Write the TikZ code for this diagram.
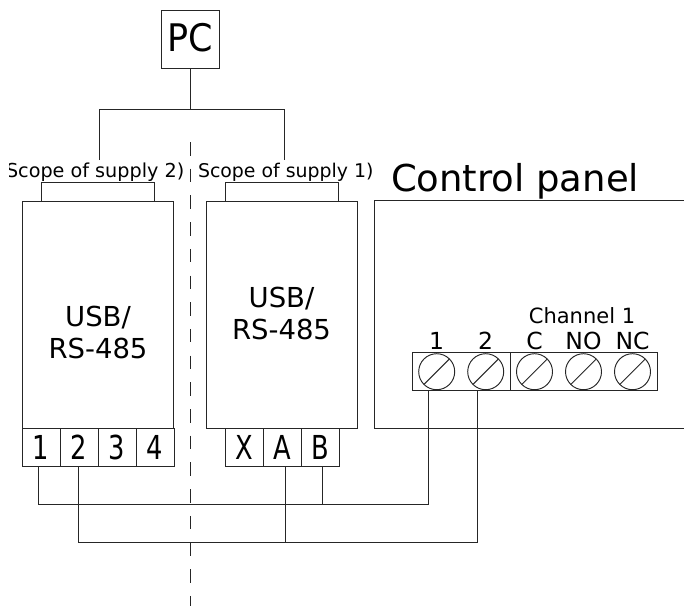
\documentclass[tikz,border=0pt]{standalone}
\usepackage{fontspec}
\usepackage{graphicx}
\setmainfont{DejaVu Sans}
\newcommand{\narrowtxt}[1]{\scalebox{0.78}[1]{#1}}
\tikzset{
  px/.style={x=1pt,y=-1pt},
  ln/.style={draw=black!85,line width=0.95pt},
  boxnode/.style={ln,fill=none,inner sep=0pt,outer sep=0pt,anchor=north west},
  txt/.style={inner sep=0pt,outer sep=0pt,text=black},
  term/.style={boxnode,minimum width=38pt,minimum height=38pt,font=\fontsize{33}{33}\selectfont},
  screw/.style={ln,circle,minimum size=36pt,inner sep=0pt,outer sep=0pt,
    path picture={\draw[ln] (path picture bounding box.south west)++(5.3pt,5.3pt) -- ++(25.4pt,25.4pt);}},
  wire/.style={ln,line width=0.9pt},
  cut/.style={ln,dash pattern=on 13.5pt off 13.2pt,line width=0.85pt},
}
\begin{document}
\begin{tikzpicture}[px]
\useasboundingbox (0,0) rectangle (684,606);
% divider
\coordinate (dtop) at (190.5,142);
\coordinate (dbot) at (190.5,606);
\draw[cut] (dtop) -- (dbot);
% PC
\node[boxnode,minimum width=58pt,minimum height=58pt] (pc) at (161,10.5) {};
\node[txt,font=\fontsize{38}{38}\selectfont] (pclbl) at (190.5,37.5) {\scalebox{0.92}[1]{PC}};
% converters
\node[boxnode,minimum width=151pt,minimum height=227pt] (boxL) at (22.5,201.5) {};
\node[boxnode,minimum width=113pt,minimum height=19pt] (tabL) at (41.5,182.5) {};
\node[boxnode,minimum width=151pt,minimum height=227pt] (boxR) at (206.5,201.5) {};
\node[boxnode,minimum width=113pt,minimum height=19pt] (tabR) at (225.5,182.5) {};
\node[txt,align=center,font=\fontsize{27.5}{32}\selectfont] at (98,332) (lblL) {USB/\\RS-485};
\node[txt,align=center,font=\fontsize{27.5}{32}\selectfont] at (281.5,313) (lblR) {USB/\\RS-485};
% terminals
\node[term] (t1) at (22,428.5) {\narrowtxt{1}};
\node[term] (t2) at (60,428.5) {\narrowtxt{2}};
\node[term] (t3) at (98,428.5) {\narrowtxt{3}};
\node[term] (t4) at (136,428.5) {\narrowtxt{4}};
\node[term] (tx) at (225.5,428.5) {\narrowtxt{X}};
\node[term] (ta) at (263.5,428.5) {\narrowtxt{A}};
\node[term] (tb) at (301.5,428.5) {\narrowtxt{B}};
% scope labels
\begin{scope}
\clip (9,150) rectangle (684,200);
\node[txt,anchor=base west,font=\fontsize{19.2}{20}\selectfont] (scL) at (6,177) {Scope of supply 2)};
\end{scope}
\node[txt,anchor=base west,font=\fontsize{18.9}{20}\selectfont] (scR) at (198,177) {Scope of supply 1)};
% PC wiring
\coordinate (feedL) at (99,160);
\coordinate (feedR) at (284.5,160);
\draw[wire] (pc.south) -- (190,109.5) coordinate (busC);
\draw[wire] (feedL) -- (99,109.5) -- (284.5,109.5) -- (feedR);
% control panel
\coordinate (pTR) at (684,200.5);
\coordinate (pBR) at (684,428.5);
\draw[ln] (pTR) -- (374.5,200.5) -- (374.5,428.5) -- (pBR);
\node[txt,anchor=base west,font=\fontsize{37}{37}\selectfont] (cp) at (391,191) {Control panel};
% strip
\node[boxnode,minimum width=245pt,minimum height=38pt] (strip) at (412.5,352) {};
\coordinate (divT) at (510.5,352);
\coordinate (divB) at (510.5,390);
\draw[ln] (divT) -- (divB);
\foreach \n/\x/\t in {s1/436.7/1,s2/485.7/2,sc/534.5/C,sno/583.5/NO,snc/632.5/NC}{
  \node[screw] (\n) at (\x,371.7) {};
  \node[txt,anchor=base,font=\fontsize{23.5}{23.5}\selectfont] (l\n) at (\x,349) {\t};
}
\node[txt,anchor=base,font=\fontsize{21}{21}\selectfont] (chan) at (582,323) {Channel 1};
% field wiring
\draw[wire] ([xshift=-2.5pt]t1.south) |- (428.5,504.5) -- (428.5,390);
\draw[wire] ([xshift=-1pt]t2.south) |- (477.5,542.5) -- (477.5,390);
\draw[wire] ([xshift=2.5pt]ta.south) -- (285,542.5);
\draw[wire] ([xshift=1.5pt]tb.south) -- (322,504.5);
\end{tikzpicture}
\end{document}
